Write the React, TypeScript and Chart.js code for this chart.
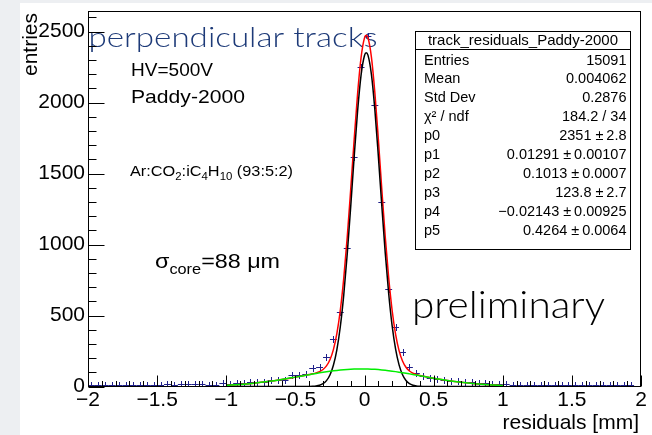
import React, { useEffect, useRef } from 'react';
import { Chart, registerables } from 'chart.js';

Chart.register(...registerables);

// ---------------- data ----------------
const binCenters = [
  -1.975, -1.925, -1.875, -1.825, -1.775, -1.725, -1.675, -1.625, -1.575, -1.525,
  -1.475, -1.425, -1.375, -1.325, -1.275, -1.225, -1.175, -1.125, -1.075, -1.025,
  -0.975, -0.925, -0.875, -0.825, -0.775, -0.725, -0.675, -0.625, -0.575, -0.525,
  -0.475, -0.425, -0.375, -0.325, -0.275, -0.225, -0.175, -0.125, -0.075, -0.025,
  0.025, 0.075, 0.125, 0.175, 0.225, 0.275, 0.325, 0.375, 0.425, 0.475,
  0.525, 0.575, 0.625, 0.675, 0.725, 0.775, 0.825, 0.875, 0.925, 0.975,
  1.025, 1.075, 1.125, 1.175, 1.225, 1.275, 1.325, 1.375, 1.425, 1.475,
  1.525, 1.575, 1.625, 1.675, 1.725, 1.775, 1.825, 1.875, 1.925, 1.975,
];
const counts = [
  2, 3, 2, 3, 4, 3, 4, 3, 5, 4,
  6, 9, 7, 10, 9, 10, 8, 6, 7, 19,
  14, 20, 18, 27, 25, 28, 36, 42, 38, 72,
  75, 82, 121, 130, 200, 330, 515, 968, 1609, 2243,
  2462, 1975, 1292, 678, 415, 234, 130, 88, 70, 56,
  47, 40, 35, 30, 26, 22, 19, 15, 12, 9,
  8, 7, 6, 6, 5, 4, 5, 3, 4, 3,
  3, 2, 3, 2, 3, 2, 2, 1, 2, 0,
];

const fitX = [
  -1, -0.9, -0.8, -0.7, -0.6, -0.5, -0.45, -0.425, -0.4, -0.375,
  -0.35, -0.325, -0.3, -0.275, -0.25, -0.225, -0.2, -0.175, -0.15, -0.125,
  -0.1, -0.075, -0.05, -0.025, 0, 0.0125, 0.025, 0.05, 0.075, 0.1,
  0.125, 0.15, 0.175, 0.2, 0.225, 0.25, 0.275, 0.3, 0.325, 0.35,
  0.375, 0.4, 0.425, 0.45, 0.5, 0.6, 0.7, 0.8, 0.9, 1.0,
];
const fitCore = [
  0, 0, 0, 0, 0, 0, 0.1, 0.2, 0.6, 1.5,
  3.8, 9.0, 19.9, 41.4, 81.0, 149.2, 258.5, 420.9, 645.4, 931.3,
  1263.2, 1613.3, 1938.7, 2192.1, 2332.0, 2351.0, 2334.3, 2198.4, 1948.3, 1624.6,
  1274.7, 940.9, 653.6, 427.2, 262.6, 152.0, 82.8, 42.4, 20.4, 9.3,
  4.0, 1.6, 0.6, 0.2, 0, 0, 0, 0, 0, 0,
];
const fitBackground = [
  8.9, 14.8, 23.4, 34.9, 49.3, 66.0, 74.7, 79.1, 83.5, 87.8,
  92.0, 96.1, 100.0, 103.7, 107.2, 110.5, 113.4, 116.0, 118.3, 120.2,
  121.7, 122.8, 123.5, 123.8, 123.6, 123.4, 123.1, 122.1, 120.7, 118.9,
  116.7, 114.2, 111.3, 108.2, 104.8, 101.1, 97.2, 93.2, 89.0, 84.7,
  80.4, 76.0, 71.6, 67.2, 58.6, 42.8, 29.6, 19.4, 12.0, 7.0,
];
const fitTotal = [
  8.9, 14.8, 23.4, 34.9, 49.3, 66.0, 74.8, 79.3, 84.1, 89.3,
  95.8, 105.1, 119.9, 145.1, 188.2, 259.7, 371.9, 536.9, 763.7, 1051.5,
  1384.9, 1736.1, 2062.2, 2315.9, 2455.6, 2474.4, 2457.4, 2320.5, 2069.0, 1743.5,
  1391.4, 1055.1, 764.9, 535.4, 367.4, 253.1, 180.0, 135.6, 109.4, 94.0,
  84.4, 77.6, 72.2, 67.4, 58.6, 42.8, 29.6, 19.4, 12.0, 7.0,
];

const xMajorTicks = [-2, -1.5, -1, -0.5, 0, 0.5, 1, 1.5, 2];
const xTickLabels = ['\u22122', '\u22121.5', '\u22121', '\u22120.5', '0', '0.5', '1', '1.5', '2'];
const xMinorTicks = [
  -1.9, -1.8, -1.7, -1.6, -1.4, -1.3, -1.2, -1.1, -0.9, -0.8, -0.7, -0.6, -0.4, -0.3, -0.2, -0.1,
  0.1, 0.2, 0.3, 0.4, 0.6, 0.7, 0.8, 0.9, 1.1, 1.2, 1.3, 1.4, 1.6, 1.7, 1.8, 1.9,
];
const yMajorTicks = [0, 500, 1000, 1500, 2000, 2500];
const yTickLabels = ['0', '500', '1000', '1500', '2000', '2500'];
const yMinorTicks = [
  100, 200, 300, 400, 600, 700, 800, 900, 1100, 1200, 1300, 1400,
  1600, 1700, 1800, 1900, 2100, 2200, 2300, 2400, 2600,
];

const statsTitle = 'track_residuals_Paddy-2000';
const statLabels = ['Entries', 'Mean', 'Std Dev', '\u03C7\u00B2 / ndf', 'p0', 'p1', 'p2', 'p3', 'p4', 'p5'];
const statValues = [
  '15091', '0.004062', '0.2876', '184.2 / 34',
  '2351 \u00B1\u20092.8', '0.01291 \u00B1\u20090.00107', '0.1013 \u00B1\u20090.0007',
  '123.8 \u00B1\u20092.7', '\u22120.02143 \u00B1\u20090.00925', '0.4264 \u00B1\u20090.0064',
];

const xTitle = 'residuals [mm]';
const yTitle = 'entries';

// ---------------- styles ----------------
const SANS = "'Liberation Sans', Arial, Helvetica, sans-serif";
const GEO = "Lato, 'Open Sans', sans-serif";
const MARKER = '#20208a';
const GREEN = '#00ee00';
const RED = '#ff0000';
const BLUE_TITLE = '#1d3a78';

type Seg = { t: string; size: number; dy: number; weight?: number };

function drawSegs(ctx: CanvasRenderingContext2D, segs: Seg[], x: number, y: number, targetW: number, color: string, family: string) {
  let total = 0;
  const widths: number[] = [];
  for (const s of segs) {
    ctx.font = `${s.weight || 400} ${s.size}px ${family}`;
    const w = ctx.measureText(s.t).width;
    widths.push(w);
    total += w;
  }
  const sx = targetW > 0 ? targetW / total : 1;
  ctx.save();
  ctx.translate(x, y);
  ctx.scale(sx, 1);
  ctx.fillStyle = color;
  ctx.textAlign = 'left';
  ctx.textBaseline = 'alphabetic';
  let cx = 0;
  segs.forEach((s, i) => {
    ctx.font = `${s.weight || 400} ${s.size}px ${family}`;
    ctx.fillText(s.t, cx, s.dy);
    cx += widths[i];
  });
  ctx.restore();
}

const decor = {
  id: 'rootDecor',
  beforeDraw(chart: any) {
    const ctx: CanvasRenderingContext2D = chart.ctx;
    ctx.save();
    ctx.fillStyle = '#ffffff';
    ctx.fillRect(0, 0, chart.width, chart.height);
    ctx.fillStyle = '#edeff2';
    ctx.fillRect(0, 0, 20, chart.height);
    ctx.fillRect(0, 0, chart.width, 3);
    ctx.restore();
  },
  beforeDatasetsDraw(chart: any) {
    const ctx: CanvasRenderingContext2D = chart.ctx;
    ctx.save();
    drawSegs(ctx, [{ t: 'perpendicular tracks', size: 28, dy: 0, weight: 300 }], 88.5, 47, 289, BLUE_TITLE, GEO);
    drawSegs(ctx, [{ t: 'preliminary', size: 38, dy: 0, weight: 300 }], 412, 318, 193, '#000000', GEO);
    drawSegs(ctx, [{ t: 'HV=500V', size: 19, dy: 0 }], 131, 76, 82, '#000000', SANS);
    drawSegs(ctx, [{ t: 'Paddy-2000', size: 19, dy: 0 }], 131, 103, 114, '#000000', SANS);
    drawSegs(
      ctx,
      [
        { t: 'Ar:CO', size: 15, dy: 0 },
        { t: '2', size: 10.5, dy: 3.5 },
        { t: ':iC', size: 15, dy: 0 },
        { t: '4', size: 10.5, dy: 3.5 },
        { t: 'H', size: 15, dy: 0 },
        { t: '10', size: 10.5, dy: 3.5 },
        { t: ' (93:5:2)', size: 15, dy: 0 },
      ],
      130, 176, 163, '#000000', SANS,
    );
    drawSegs(
      ctx,
      [
        { t: '\u03C3', size: 20, dy: 0 },
        { t: 'core', size: 14, dy: 6 },
        { t: '=88 \u03BCm', size: 20, dy: 0 },
      ],
      155, 268, 125, '#000000', SANS,
    );
    ctx.restore();
  },
  afterDatasetDraw(chart: any, args: any) {
    if (args.index !== 3) return;
    const ctx: CanvasRenderingContext2D = chart.ctx;
    const xs = chart.scales.x;
    const ys = chart.scales.y;
    const area = chart.chartArea;
    const half = (binCenters[1] - binCenters[0]) / 2;
    ctx.save();
    ctx.beginPath();
    ctx.rect(area.left, area.top - 2, area.right - area.left, area.bottom - area.top + 2);
    ctx.clip();
    ctx.strokeStyle = MARKER;
    ctx.lineWidth = 1;
    ctx.beginPath();
    binCenters.forEach((c, i) => {
      const x0 = xs.getPixelForValue(c - half);
      const x1 = xs.getPixelForValue(c + half);
      const xc = xs.getPixelForValue(c);
      const y = Math.round(ys.getPixelForValue(counts[i])) - 0.5;
      ctx.moveTo(x0, y);
      ctx.lineTo(x1, y);
      if (counts[i] > 0) {
        ctx.moveTo(Math.round(xc) + 0.5, y - 3.5);
        ctx.lineTo(Math.round(xc) + 0.5, y + 3.5);
      }
    });
    ctx.stroke();
    ctx.restore();
  },
  afterDraw(chart: any) {
    const ctx: CanvasRenderingContext2D = chart.ctx;
    const xs = chart.scales.x;
    const ys = chart.scales.y;
    const a = chart.chartArea;
    const L = Math.round(a.left) + 0.5;
    const R = Math.round(a.right) - 0.5;
    const T = Math.round(a.top) + 0.5;
    const B = Math.round(a.bottom) - 0.5;
    ctx.save();
    // frame
    ctx.strokeStyle = '#000000';
    ctx.lineWidth = 1;
    ctx.strokeRect(L, T, R - L, B - T);
    // ticks
    ctx.beginPath();
    xMajorTicks.forEach((v) => {
      const px = Math.round(xs.getPixelForValue(v)) + 0.5;
      ctx.moveTo(px, B);
      ctx.lineTo(px, B - 11);
    });
    xMinorTicks.forEach((v) => {
      const px = Math.round(xs.getPixelForValue(v)) + 0.5;
      ctx.moveTo(px, B);
      ctx.lineTo(px, B - 5.5);
    });
    yMajorTicks.forEach((v) => {
      const py = Math.round(ys.getPixelForValue(v)) + 0.5;
      ctx.moveTo(L, py);
      ctx.lineTo(L + 16, py);
    });
    yMinorTicks.forEach((v) => {
      const py = Math.round(ys.getPixelForValue(v)) + 0.5;
      ctx.moveTo(L, py);
      ctx.lineTo(L + 8, py);
    });
    ctx.stroke();

    // tick labels
    ctx.fillStyle = '#000000';
    ctx.font = `21px ${SANS}`;
    ctx.textBaseline = 'middle';
    ctx.textAlign = 'center';
    xMajorTicks.forEach((v, i) => {
      ctx.fillText(xTickLabels[i], xs.getPixelForValue(v), 400);
    });
    ctx.textAlign = 'right';
    yMajorTicks.forEach((v, i) => {
      ctx.fillText(yTickLabels[i], 85, ys.getPixelForValue(v));
    });

    // axis titles
    ctx.textBaseline = 'alphabetic';
    ctx.textAlign = 'right';
    ctx.fillText(xTitle, 639, 429);
    ctx.save();
    ctx.translate(37, 13);
    ctx.rotate(-Math.PI / 2);
    ctx.textAlign = 'right';
    ctx.fillText(yTitle, 0, 0);
    ctx.restore();

    // stats box
    const bx0 = 415.5, bx1 = 630.5, by0 = 31.5, by1 = 249.5, sep = 49.5;
    ctx.fillStyle = '#ffffff';
    ctx.fillRect(bx0, by0, bx1 - bx0, by1 - by0);
    ctx.strokeStyle = '#000000';
    ctx.strokeRect(bx0, by0, bx1 - bx0, by1 - by0);
    ctx.beginPath();
    ctx.moveTo(bx0, sep);
    ctx.lineTo(bx1, sep);
    ctx.stroke();
    ctx.fillStyle = '#000000';
    ctx.font = `15px ${SANS}`;
    ctx.textAlign = 'center';
    ctx.fillText(statsTitle, (bx0 + bx1) / 2, 45);
    ctx.font = `14.5px ${SANS}`;
    statLabels.forEach((lab, i) => {
      const y = 64.5 + i * 18.9;
      ctx.textAlign = 'left';
      ctx.fillText(lab, 424, y);
      ctx.textAlign = 'right';
      ctx.fillText(statValues[i], 626.5, y);
    });
    ctx.restore();
  },
};

export default function App() {
  const ref = useRef<HTMLCanvasElement | null>(null);
  useEffect(() => {
    document.body.style.margin = '0';
    const canvas = ref.current;
    if (!canvas) return;
    const line = (vals: number[]) => fitX.map((x, i) => ({ x, y: vals[i] }));
    const chart = new Chart(canvas, {
      type: 'line',
      data: {
        datasets: [
          {
            label: 'background',
            data: line(fitBackground),
            borderColor: GREEN,
            borderWidth: 1.5,
            pointRadius: 0,
            cubicInterpolationMode: 'monotone',
            fill: false,
          },
          {
            label: 'core',
            data: line(fitCore),
            borderColor: '#000000',
            borderWidth: 1.5,
            pointRadius: 0,
            cubicInterpolationMode: 'monotone',
            fill: false,
          },
          {
            label: 'total',
            data: line(fitTotal),
            borderColor: RED,
            borderWidth: 1.5,
            pointRadius: 0,
            cubicInterpolationMode: 'monotone',
            fill: false,
          },
          {
            label: 'data',
            data: binCenters.map((x, i) => ({ x, y: counts[i] })),
            showLine: false,
            pointRadius: 0,
            borderColor: MARKER,
          },
        ],
      } as any,
      options: {
        animation: false,
        responsive: false,
        maintainAspectRatio: false,
        events: [],
        layout: { padding: { left: 88, right: 11, top: 11, bottom: 48.5 } },
        plugins: { legend: { display: false }, tooltip: { enabled: false } },
        scales: {
          x: { type: 'linear', min: -2, max: 2, display: false },
          y: { type: 'linear', min: 0, max: 2645, display: false },
        },
      } as any,
      plugins: [decor as any],
    });
    return () => chart.destroy();
  }, []);
  return (
    <canvas
      ref={ref}
      width={652}
      height={435}
      style={{ display: 'block', width: 652, height: 435 }}
    />
  );
}
